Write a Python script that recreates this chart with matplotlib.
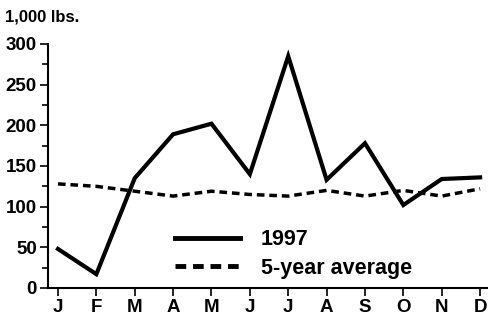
import matplotlib
matplotlib.use("Agg")
import matplotlib.pyplot as plt
from matplotlib.ticker import MultipleLocator

months = ["J", "F", "M", "A", "M", "J", "J", "A", "S", "O", "N", "D"]
y1997 = [48, 17, 135, 189, 202, 140, 285, 133, 178, 102, 134, 136]
avg5 = [128, 125, 119, 113, 119, 115, 113, 120, 113, 120, 113, 122]

plt.rcParams['font.family'] = ['Liberation Sans', 'DejaVu Sans']

fig = plt.figure(figsize=(4.89, 3.18), dpi=100)
ax = fig.add_axes([48/489, 30/318, (487-48)/489, 244/318])
x = list(range(len(months)))
ax.plot(x, y1997, color='black', lw=3, solid_joinstyle='miter', label='1997')
ax.plot(x, avg5, color='black', lw=2.5, ls=(0, (2.2, 1.4)), label='5-year average')

ax.set_ylim(0, 300)
ax.set_xlim(-0.26, 11.18)
ax.yaxis.set_major_locator(MultipleLocator(50))
ax.yaxis.set_minor_locator(MultipleLocator(25))
ax.set_xticks(x)
ax.set_xticklabels(months)
for s in ['top', 'right']:
    ax.spines[s].set_visible(False)
for s in ['left', 'bottom']:
    ax.spines[s].set_linewidth(1.5)
ax.tick_params(axis='both', which='major', length=6, width=1.2, labelsize=13.5, pad=2)
ax.tick_params(axis='y', which='minor', length=4, width=1.2)
for lab in ax.get_xticklabels() + ax.get_yticklabels():
    lab.set_fontweight('bold')

fig.text(5/489, 1 - 22/318, "1,000 lbs.", fontsize=12, fontweight='bold', va='baseline')

leg = ax.legend(loc='upper left', bbox_to_anchor=(0.245, 0.32), frameon=False,
                fontsize=15.5, handlelength=3.0, handletextpad=1.0, labelspacing=0.35)
for t in leg.get_texts():
    t.set_fontweight('bold')
for h in leg.get_lines():
    h.set_linewidth(3.5)

fig.savefig("out.png", dpi=100)
